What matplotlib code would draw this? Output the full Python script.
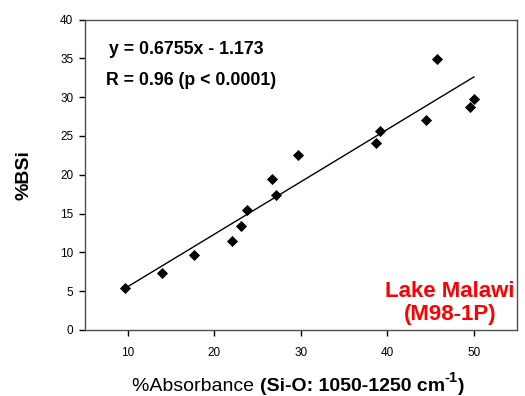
import numpy as np
import matplotlib
matplotlib.use('Agg')
import matplotlib.pyplot as plt

plt.rcParams['font.family'] = ['Liberation Sans', 'DejaVu Sans']

# data
absorbance = [9.7, 14.0, 17.7, 22.1, 23.1, 23.8, 26.7, 27.1, 29.7, 38.7, 39.1, 44.5, 45.7, 49.5, 50.0]
bsi = [5.4, 7.3, 9.7, 11.5, 13.4, 15.5, 19.5, 17.4, 22.6, 24.1, 25.6, 27.1, 34.9, 28.7, 29.7]
slope = 0.6755
intercept = -1.173
xticks = [10, 20, 30, 40, 50]
yticks = [0, 5, 10, 15, 20, 25, 30, 35, 40]

fig = plt.figure(figsize=(5.25, 3.96), dpi=100)
ax = fig.add_axes([0.161, 0.1667, 0.824, 0.784])

ax.scatter(absorbance, bsi, marker='D', s=32, c='black', zorder=3, linewidths=0)
xl = np.array([min(absorbance), max(absorbance)])
ax.plot(xl, slope*xl + intercept, c='black', lw=1)

ax.set_xlim(5, 55)
ax.set_ylim(0, 40)
ax.set_xticks(xticks)
ax.set_yticks(yticks)
ax.tick_params(direction='out', length=4, width=1, labelsize=8.5, pad=4)
ax.tick_params(axis='x', pad=8)
for sp in ax.spines.values():
    sp.set_color('#505050')
    sp.set_linewidth(1)

ax.set_ylabel('%BSi', fontsize=14, fontweight='bold', labelpad=20)

# x label: normal part + bold part with superscript
t1 = fig.text(0.252, 0.012, '%Absorbance ', fontsize=14, ha='left', va='baseline')
t2 = ax.annotate('(Si-O: 1050-1250 cm', xy=(1, 0), xycoords=t1, va='bottom', ha='left',
                 fontsize=14, fontweight='bold')
t3 = ax.annotate('-1', xy=(1, 0.6), xycoords=t2, va='bottom', ha='left',
                 fontsize=10.5, fontweight='bold')
fig.canvas.draw()
w3 = t3.get_window_extent().width
ax.annotate(')', xy=(1, 0), xycoords=t2, xytext=(w3*72/fig.dpi, 0),
            textcoords='offset points', va='bottom', ha='left', fontsize=14, fontweight='bold')

ax.text(0.057, 0.904, 'y = 0.6755x - 1.173', transform=ax.transAxes, fontsize=12.8,
        fontweight='bold', va='center')
ax.text(0.05, 0.804, 'R = 0.96 (p < 0.0001)', transform=ax.transAxes, fontsize=12.8,
        fontweight='bold', va='center')
ax.text(0.845, 0.016, 'Lake Malawi\n(M98-1P)', transform=ax.transAxes, fontsize=16,
        fontweight='bold', color='#ff0000', ha='center', va='bottom', linespacing=1.1)

fig.savefig('out.png', dpi=100)
